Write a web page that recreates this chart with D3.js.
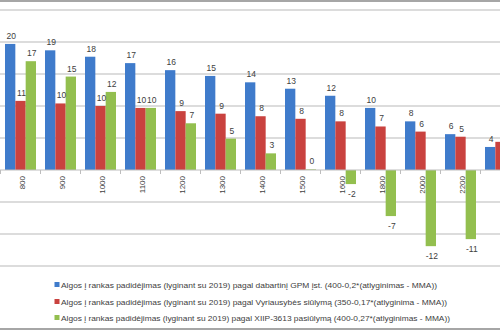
<!DOCTYPE html>
<html><head><meta charset="utf-8">
<script src="https://cdn.jsdelivr.net/npm/d3@7"></script>
<style>body{margin:0;background:#fff}svg{display:block}</style>
</head><body>
<svg id="c" width="500" height="330"></svg>
<script>
const categories = ["800","900","1000","1100","1200","1300","1400","1500","1600","1800","2000","2200","2400"];
const gpmValues = [19.7,18.7,17.7,16.7,15.6,14.7,13.7,12.7,11.6,9.7,7.6,5.6,3.6];
const govValues = [10.8,10.4,10.0,9.7,9.2,8.8,8.4,8.0,7.6,6.8,6.0,5.2,4.4];
const xiipValues = [17.0,14.6,12.2,9.7,7.3,4.9,2.6,0.1,-2.2,-7.2,-11.9,-10.8,null];
const seriesNames = [
  "Algos į rankas padidėjimas (lyginant su 2019) pagal dabartinį GPM įst. (400-0,2*(atlyginimas - MMA))",
  "Algos  į rankas padidėjimas (lyginant su 2019) pagal Vyriausybės siūlymą (350-0,17*(atlyginima - MMA))",
  "Algos  į rankas padidėjimas (lyginant su 2019) pagal XIIP-3613 pasiūlymą (400-0,27*(atlyginimas - MMA))"
];
const yTicks = [25,20,15,10,5,0,-5,-10,-15];
const colors = ["#3f7bcb","#c9423f","#93bf4f"];
const series = [gpmValues, govValues, xiipValues];

const W = 500;
const svg = d3.select("#c");
const font = "'Liberation Sans', Arial, sans-serif";
const y = d3.scaleLinear().domain([-15,25]).range([266,10]);
const x0 = d3.scaleBand().domain(categories).range([0.5, 520.5]).padding(0);
const x1 = d3.scaleBand().domain([0,1,2]).range([4.5, 35.5]).padding(0);

// outer border lines
svg.append("line").attr("x1",0).attr("x2",W).attr("y1",1).attr("y2",1).attr("stroke","#a6a6a6").attr("stroke-width",2);
svg.append("line").attr("x1",0).attr("x2",W).attr("y1",329).attr("y2",329).attr("stroke","#a6a6a6").attr("stroke-width",2);

// gridlines
svg.append("g").selectAll("line").data(yTicks.filter(d=>d!==0)).join("line")
  .attr("x1",0).attr("x2",W).attr("y1",d=>y(d)).attr("y2",d=>y(d))
  .attr("stroke","#d0d0d0").attr("stroke-width",1.5);

// bars
const g = svg.append("g");
series.forEach((vals, si) => {
  g.append("g").selectAll("rect").data(categories.map((c,i)=>({c, v: vals[i]})).filter(d=>d.v!==null)).join("rect")
    .attr("x", d => x0(d.c) + x1(si))
    .attr("width", x1.bandwidth())
    .attr("y", d => y(Math.max(0,d.v)))
    .attr("height", d => Math.abs(y(d.v)-y(0)))
    .attr("fill", colors[si]);
});

// zero axis
svg.append("line").attr("x1",0).attr("x2",W).attr("y1",y(0)).attr("y2",y(0)).attr("stroke","#bdbdbd").attr("stroke-width",1);
svg.append("g").selectAll("line").data(categories).join("line")
  .attr("x1",d=>x0(d)).attr("x2",d=>x0(d)).attr("y1",y(0)).attr("y2",y(0)+4)
  .attr("stroke","#bdbdbd");

// data labels (only those that fall inside the visible frame)
series.forEach((vals, si) => {
  const pts = categories.map((c,i)=>({c, v: vals[i], lx: x0(c) + x1(si) + x1.bandwidth()/2 + 1}))
    .filter(d=>d.v!==null && d.lx < W - 5);
  svg.append("g").selectAll("text").data(pts).join("text")
    .attr("x", d => d.lx)
    .attr("y", d => d.v >= 0 ? y(d.v) - 5 : y(d.v) + 13)
    .attr("text-anchor","middle")
    .attr("font-family",font).attr("font-size",8.5).attr("fill","#404040")
    .text(d => Math.round(d.v));
});

// category labels
svg.append("g").selectAll("text").data(categories.filter(c => x0(c)+x0.bandwidth()/2+4 < W - 5)).join("text")
  .attr("transform", d => `translate(${x0(d)+x0.bandwidth()/2+4},${y(0)+6}) rotate(-90)`)
  .attr("text-anchor","end")
  .attr("font-family",font).attr("font-size",8).attr("fill","#404040")
  .text(d=>d);

// legend
const lg = svg.append("g");
const legY = [284.5, 301.5, 317.5];
const legW = [376, 386, 389];
seriesNames.forEach((n,i)=>{
  lg.append("rect").attr("x",54.5).attr("y",legY[i]-2.5).attr("width",5).attr("height",5).attr("fill",colors[i]);
  lg.append("text").attr("x",61).attr("y",legY[i]+3)
    .attr("font-family",font).attr("font-size",8).attr("fill","#404040")
    .attr("textLength",legW[i]).attr("lengthAdjust","spacingAndGlyphs")
    .text(n);
});
</script>
</body></html>
